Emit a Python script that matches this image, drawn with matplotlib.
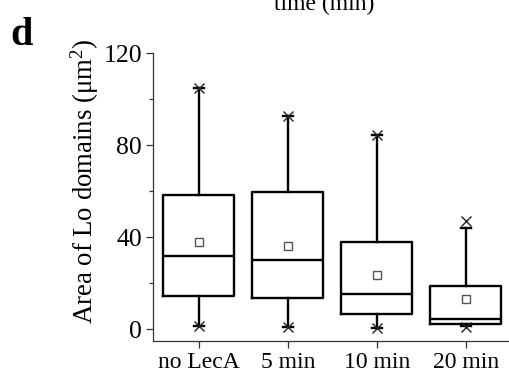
import matplotlib
matplotlib.use("Agg")
import matplotlib.pyplot as plt
from matplotlib.ticker import MultipleLocator

categories = ["no LecA", "5 min", "10 min", "20 min"]
q1 = [14.5, 13.6, 6.6, 2.4]
median = [32.1, 30.1, 15.6, 4.6]
q3 = [58.4, 59.8, 38.2, 19.0]
mean = [38.0, 36.3, 23.7, 13.1]
whisker_low = [1.6, 1.0, 0.7, 1.7]
whisker_high = [104.9, 93.0, 84.6, 44.0]
pct_low = [1.6, 1.0, 0.7, 1.0]
pct_high = [104.9, 93.0, 84.6, 47.3]

plt.rcParams['font.family'] = ['Liberation Serif', 'DejaVu Serif']
plt.rcParams['mathtext.fontset'] = 'stix'

fig = plt.figure(figsize=(5.09, 3.78), dpi=100)
ax = fig.add_axes([0.301, 0.0987, 0.699, 0.7598])

stats = []
for i, c in enumerate(categories):
    stats.append(dict(label=c, q1=q1[i], med=median[i], q3=q3[i], mean=mean[i],
                      whislo=whisker_low[i], whishi=whisker_high[i],
                      fliers=[pct_low[i], pct_high[i]]))

pos = list(range(1, len(categories) + 1))
lw = 1.7
ax.bxp(stats, positions=pos, widths=0.8, showmeans=True, showfliers=True,
       capwidths=0.11,
       boxprops=dict(color='black', linewidth=lw),
       medianprops=dict(color='black', linewidth=lw),
       whiskerprops=dict(color='black', linewidth=lw),
       capprops=dict(color='black', linewidth=lw),
       meanprops=dict(marker='s', markerfacecolor='white', markeredgecolor='#555555',
                      markersize=6, markeredgewidth=1.0),
       flierprops=dict(marker='x', markeredgecolor='#222222', markersize=7,
                       markeredgewidth=1.0, linestyle='none'))

ax.set_xlim(0.486, 4.487)
ax.set_ylim(-4.9, 120)
ax.set_yticks([0, 40, 80, 120])
ax.yaxis.set_minor_locator(MultipleLocator(20))
ax.set_xticks(pos)
ax.set_xticklabels(categories)
for s in ['top', 'right']:
    ax.spines[s].set_visible(False)
for s in ['left', 'bottom']:
    ax.spines[s].set_color('#333333')
    ax.spines[s].set_linewidth(0.9)
ax.tick_params(axis='both', which='major', direction='out', length=5, width=0.9,
               color='#333333', pad=3)
ax.tick_params(axis='x', labelsize=17)
ax.tick_params(axis='y', labelsize=18.5)
ax.tick_params(axis='y', which='minor', direction='out', length=3, width=0.9, color='#333333')
ax.tick_params(axis='x', which='minor', bottom=False)

ax.set_ylabel(r'Area of Lo domains ($\mathregular{\mu m^2}$)', fontsize=19.3)
ax.yaxis.set_label_coords(-0.147, 0.556)

fig.text(10 / 509, 1 - 45 / 378, 'd', fontsize=29, fontweight='bold',
         ha='left', va='baseline')
fig.text(324 / 509, 1 - 10 / 378, 'time (min)', fontsize=17, ha='center', va='baseline')

fig.savefig('out.png', dpi=100)
